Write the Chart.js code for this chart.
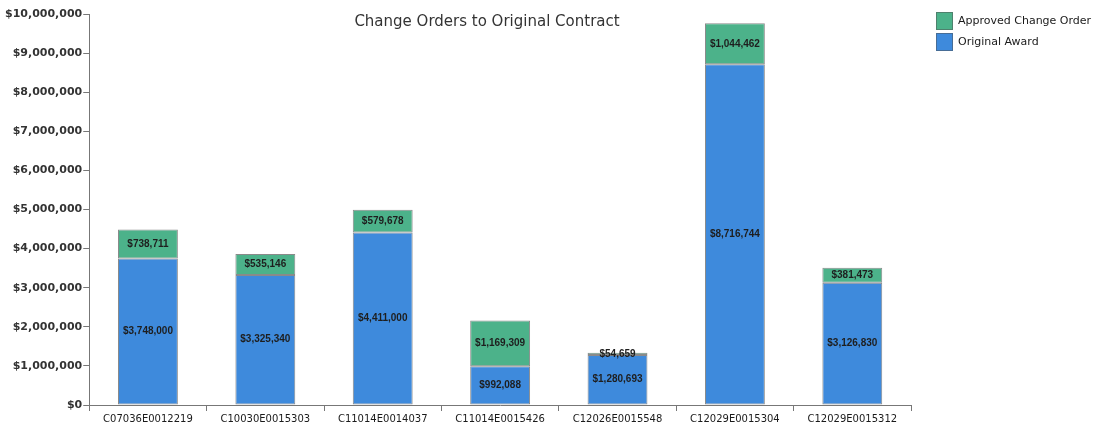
<!DOCTYPE html>
<html><head><meta charset="utf-8">
<script src="https://cdn.jsdelivr.net/npm/chart.js@4/dist/chart.umd.min.js"></script>
<style>html,body{margin:0;padding:0;background:#fff}#wrap{width:1100px;height:427px}</style>
</head><body><div id="wrap"><canvas id="c" width="1100" height="427"></canvas></div>
<script>
const categories = ["C07036E0012219","C10030E0015303","C11014E0014037","C11014E0015426","C12026E0015548","C12029E0015304","C12029E0015312"];
const originalAward = [3748000, 3325340, 4411000, 992088, 1280693, 8716744, 3126830];
const approvedChange = [738711, 535146, 579678, 1169309, 54659, 1044462, 381473];
const seriesNames = ["Original Award", "Approved Change Order"];
const chartTitle = "Change Orders to Original Contract";

const GREEN = "rgb(76,178,138)", BLUE = "rgb(62,138,220)";
const fmt = v => "$" + v.toLocaleString("en-US");

const labelPlugin = {
  id: "segLabels",
  afterDatasetsDraw(chart) {
    const ctx = chart.ctx;
    ctx.save();
    ctx.font = "bold 10px 'Liberation Sans', Arial, sans-serif";
    ctx.fillStyle = "#1e1e1e";
    ctx.textAlign = "center";
    ctx.textBaseline = "middle";
    chart.data.datasets.forEach((ds, di) => {
      chart.getDatasetMeta(di).data.forEach((el, i) => {
        const p = el.getProps(["x","y","base"], true);
        ctx.fillText(fmt(ds.data[i]), p.x, (p.y + p.base) / 2);
      });
    });
    ctx.restore();
  }
};

const titleLegendPlugin = {
  id: "titleLegend",
  afterDraw(chart) {
    const ctx = chart.ctx;
    ctx.save();
    ctx.font = "15px 'DejaVu Sans', sans-serif";
    ctx.fillStyle = "#333";
    ctx.textAlign = "center";
    ctx.textBaseline = "middle";
    ctx.fillText(chartTitle, 487, 22);
    const items = chart.data.datasets.slice().reverse();
    ctx.font = "11px 'DejaVu Sans', sans-serif";
    ctx.textAlign = "left";
    items.forEach((ds, k) => {
      const y = 12 + k * 21;
      ctx.fillStyle = ds.backgroundColor;
      ctx.fillRect(936, y, 17, 18);
      ctx.strokeStyle = "rgba(80,80,80,0.5)";
      ctx.lineWidth = 1;
      ctx.strokeRect(936.5, y + 0.5, 16, 17);
      ctx.fillStyle = "#1a1a1a";
      ctx.fillText(ds.label, 958, y + 9);
    });
    ctx.restore();
  }
};

new Chart(document.getElementById("c"), {
  type: "bar",
  data: {
    labels: categories,
    datasets: [
      { label: seriesNames[0], data: originalAward, backgroundColor: BLUE, borderColor: "rgba(60,60,60,0.6)", borderWidth: 1, borderSkipped: false },
      { label: seriesNames[1], data: approvedChange, backgroundColor: GREEN, borderColor: "rgba(60,60,60,0.6)", borderWidth: 1, borderSkipped: false }
    ]
  },
  options: {
    responsive: false,
    animation: false,
    layout: { padding: { left: 4, right: 189, top: 14, bottom: 0 } },
    plugins: { legend: { display: false }, title: { display: false }, tooltip: { enabled: false } },
    datasets: { bar: { categoryPercentage: 1, barPercentage: 0.51 } },
    scales: {
      x: {
        stacked: true,
        grid: { display: true, drawOnChartArea: false, drawTicks: true, tickLength: 6, color: "#777" },
        border: { display: true, color: "#777" },
        ticks: { color: "#1a1a1a", font: { family: "'DejaVu Sans', sans-serif", size: 10 }, padding: 2, maxRotation: 0 }
      },
      y: {
        stacked: true,
        min: 0, max: 10000000,
        grid: { display: true, drawOnChartArea: false, drawTicks: true, tickLength: 6, color: "#777" },
        border: { display: true, color: "#777" },
        ticks: { stepSize: 1000000, color: "#333", padding: 1, font: { family: "'DejaVu Sans', sans-serif", size: 11, weight: "bold" }, callback: v => fmt(v) }
      }
    }
  },
  plugins: [labelPlugin, titleLegendPlugin]
});
</script></body></html>
